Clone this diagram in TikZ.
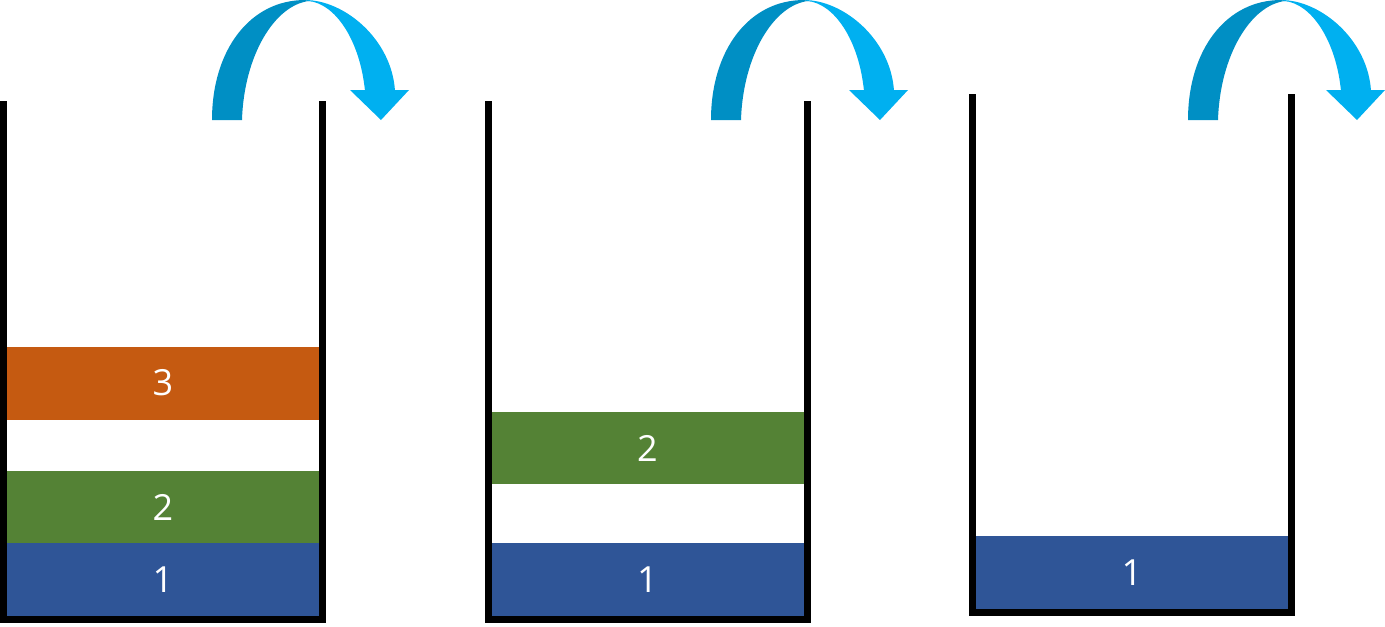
\documentclass[tikz,border=0pt]{standalone}
\usepackage{fontspec}
\setmainfont{Open Sans}
\definecolor{cOrange}{HTML}{C55A11}
\definecolor{cGreen}{HTML}{548235}
\definecolor{cBlue}{HTML}{2F5597}
\definecolor{cArrowDark}{HTML}{008FC4}
\definecolor{cArrowLight}{HTML}{00B0F0}
\tikzset{
  wall/.style={draw=black, line width=5.25pt, line join=miter, line cap=butt},
  lbl/.style={text=white, font=\fontsize{27}{30}\selectfont, inner sep=0pt},
}
\newcommand{\popArrow}[1]{%
  \begin{scope}[xshift=#1*0.75pt]
    \fill[cArrowLight] (305,0) .. controls (345,0) and (392,40) .. (395,91)
      -- (365,91) .. controls (360,40) and (335,3) .. (308,1) -- cycle;
    \fill[cArrowLight] (350,90) -- (409,90) -- (381,120) -- cycle;
    \fill[cArrowDark] (212,120) -- (242,120) .. controls (244,55) and (275,5) .. (309,1)
      -- (305,0) .. controls (250,0) and (212,50) .. (212,120) -- cycle;
  \end{scope}}
\begin{document}
\begin{tikzpicture}[x=0.75pt, y=-0.75pt]
\useasboundingbox (0,0) rectangle (1385,626);
% container 1
\fill[cBlue] (7,543) rectangle (319,616);
\fill[cGreen] (7,471) rectangle (319,543);
\fill[cOrange] (7,347) rectangle (319,420);
\node[lbl] (a1) at (163,580) {1};
\node[lbl] (a2) at (163,507) {2};
\node[lbl] (a3) at (163,383) {3};
\draw[wall] (3.5,101) -- (3.5,619.5) -- (322.5,619.5) -- (322.5,101);
% container 2
\fill[cBlue] (491.5,543) rectangle (803.5,616);
\fill[cGreen] (491.5,412) rectangle (803.5,484);
\node[lbl] (b1) at (647.5,580) {1};
\node[lbl] (b2) at (647.5,448) {2};
\draw[wall] (488,101) -- (488,619.5) -- (807,619.5) -- (807,101);
% container 3
\fill[cBlue] (976,536) rectangle (1288,609);
\node[lbl] (c1) at (1132,573) {1};
\draw[wall] (972.5,94) -- (972.5,612.5) -- (1291,612.5) -- (1291,94);
% arrows
\popArrow{0}
\popArrow{499}
\popArrow{976}
\end{tikzpicture}
\end{document}
